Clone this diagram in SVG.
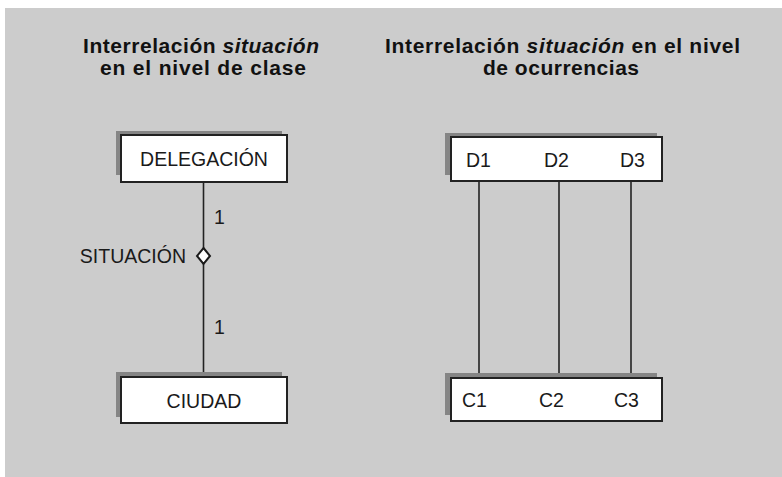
<svg xmlns="http://www.w3.org/2000/svg" width="782" height="477" viewBox="0 0 782 477">
<style>
.bg{fill:#cccccc}
.shadow{fill:#858585}
.box{fill:#ffffff;stroke:#222222;stroke-width:2}
.line{stroke:#222222;stroke-width:1.6;fill:none}
.t{font-family:"Liberation Sans",Arial,sans-serif;font-size:19.5px;fill:#1a1a1a}
.title{font-family:"Liberation Sans",Arial,sans-serif;font-size:21px;font-weight:bold;fill:#111111}
.it{font-style:italic}
.dia{fill:#ffffff;stroke:#1a1a1a;stroke-width:2}
</style>
<rect x="5" y="8" width="777" height="469" class="bg"/>
<g id="titles">
<text class="title" x="83" y="53" textLength="236">Interrelación <tspan class="it">situación</tspan></text>
<text class="title" x="100" y="75" textLength="206">en el nivel de clase</text>
<text class="title" x="385" y="53" textLength="355">Interrelación <tspan class="it">situación</tspan> en el nivel</text>
<text class="title" x="483" y="75" textLength="156">de ocurrencias</text>
</g>
<g id="connectors">
<line class="line" x1="203.5" y1="182" x2="203.5" y2="377"/>
<line class="line" x1="479" y1="168" x2="479" y2="384"/>
<line class="line" x1="559" y1="168" x2="559" y2="384"/>
<line class="line" x1="631" y1="168" x2="631" y2="384"/>
<text class="t" x="214" y="224">1</text>
<text class="t" x="214" y="334">1</text>
</g>
<g id="situacion">
<polygon class="dia" points="203.5,248 210,256 203.5,264 197,256"/>
<text class="t" x="186" y="263" text-anchor="end">SITUACIÓN</text>
</g>
<g id="delegacion">
<rect class="shadow" x="116" y="131" width="166" height="44"/>
<rect class="box" x="121" y="135" width="166" height="47"/>
<text class="t" x="204" y="166" text-anchor="middle">DELEGACIÓN</text>
</g>
<g id="ciudad">
<rect class="shadow" x="116" y="372" width="166" height="45"/>
<rect class="box" x="121" y="377" width="166" height="46"/>
<text class="t" x="204" y="408" text-anchor="middle">CIUDAD</text>
</g>
<g id="delegaciones">
<rect class="shadow" x="445" y="133" width="212" height="42"/>
<rect class="box" x="451" y="137" width="211" height="44"/>
<text class="t" x="466" y="167">D1</text>
<text class="t" x="544" y="167">D2</text>
<text class="t" x="620" y="167">D3</text>
</g>
<g id="ciudades">
<rect class="shadow" x="445" y="373" width="212" height="42"/>
<rect class="box" x="451" y="378" width="211" height="43"/>
<text class="t" x="462" y="407">C1</text>
<text class="t" x="539" y="407">C2</text>
<text class="t" x="614" y="407">C3</text>
</g>
</svg>
